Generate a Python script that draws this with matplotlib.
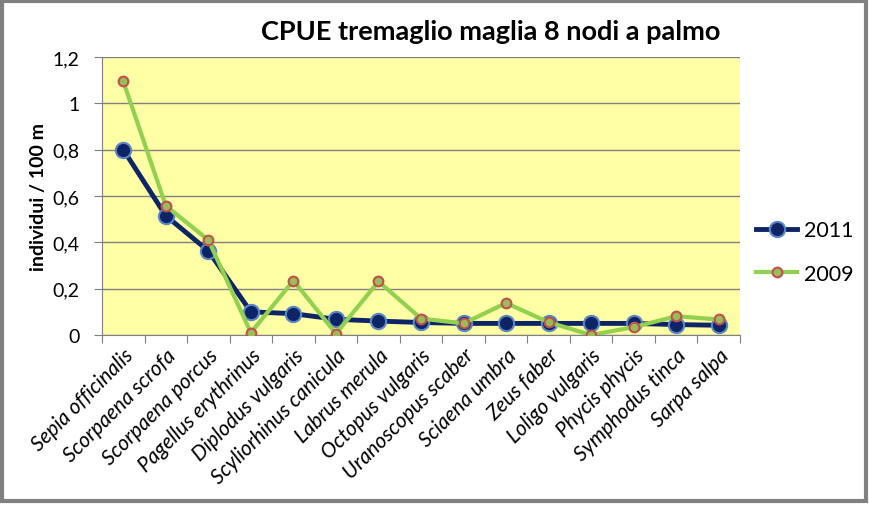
import matplotlib
matplotlib.use("Agg")
import matplotlib.pyplot as plt
from matplotlib.patches import Rectangle
from matplotlib.lines import Line2D

species = ["Sepia officinalis", "Scorpaena scrofa", "Scorpaena porcus", "Pagellus erythrinus",
           "Diplodus vulgaris", "Scyliorhinus canicula", "Labrus merula", "Octopus vulgaris",
           "Uranoscopus scaber", "Sciaena umbra", "Zeus faber", "Loligo vulgaris",
           "Phycis phycis", "Symphodus tinca", "Sarpa salpa"]
v2011 = [0.80, 0.515, 0.363, 0.100, 0.092, 0.068, 0.060, 0.054, 0.050, 0.050, 0.050, 0.050, 0.050, 0.045, 0.042]
v2009 = [1.095, 0.558, 0.410, 0.010, 0.235, 0.006, 0.231, 0.071, 0.050, 0.138, 0.055, 0.000, 0.034, 0.081, 0.067]
yticks = [0, 0.2, 0.4, 0.6, 0.8, 1.0, 1.2]
ytick_labels = ["0", "0,2", "0,4", "0,6", "0,8", "1", "1,2"]

plt.rcParams['font.family'] = ['Lato', 'DejaVu Sans']

W, H = 869, 506
fig = plt.figure(figsize=(W/100, H/100), dpi=100)
fig.patch.set_facecolor('white')
# outer border
fig.add_artist(Rectangle((0.002, 0.008), 0.994, 0.988, transform=fig.transFigure,
                         fill=False, edgecolor='#808080', linewidth=3))

left, right, top, bottom = 102, 740, 58, 336
ax = fig.add_axes([left/W, 1 - bottom/H, (right-left)/W, (bottom-top)/H])
ax.set_facecolor('#FFFFA6')

x = list(range(len(species)))
ax.plot(x, v2011, color='#0D2566', linewidth=3.5, marker='o', markersize=11,
        markerfacecolor='#0D2566', markeredgecolor='#5B86C5', markeredgewidth=1.5,
        zorder=3, label='2011')
ax.plot(x, v2009, color='#92D050', linewidth=3.0, marker='o', markersize=7,
        markerfacecolor='#9BBB59', markeredgecolor='#C0504D', markeredgewidth=1.5,
        zorder=4, label='2009')

ax.set_xlim(-0.5, len(species) - 0.5)
ax.set_ylim(0, 1.2)
ax.set_yticks(yticks)
ax.set_yticklabels(ytick_labels, fontsize=14)
ax.yaxis.grid(True, color='#808080', linewidth=1)
ax.set_axisbelow(True)
for s in ['top', 'right']:
    ax.spines[s].set_visible(False)
ax.spines['left'].set_color('#808080')
ax.spines['bottom'].set_color('#808080')
ax.tick_params(axis='y', length=6, color='#808080', pad=10)

ax.set_xticks([i - 0.5 for i in range(len(species) + 1)], minor=False)
ax.set_xticklabels([])
ax.tick_params(axis='x', length=6, color='#808080', direction='out')
ax.set_xticks(x, minor=True)
ax.set_xticklabels(species, minor=True, rotation=45, ha='right', rotation_mode='anchor',
                   fontsize=15, style='italic')
ax.tick_params(axis='x', which='minor', length=0, pad=7)

ax.set_ylabel('individui / 100 m', fontsize=14, fontweight='bold', labelpad=4)

fig.text(491/W, 1 - 32/H, 'CPUE tremaglio maglia 8 nodi a palmo', fontsize=19.5,
         fontweight='bold', ha='center', va='center')

handles = [Line2D([0], [0], color='#0D2566', linewidth=3.5, marker='o', markersize=11,
                  markerfacecolor='#0D2566', markeredgecolor='#5B86C5', markeredgewidth=1.5),
           Line2D([0], [0], color='#92D050', linewidth=3.0, marker='o', markersize=7,
                  markerfacecolor='#9BBB59', markeredgecolor='#C0504D', markeredgewidth=1.5)]
fig.legend(handles, ['2011', '2009'], loc='center left', bbox_to_anchor=(737/W, 1 - 253/H),
           frameon=False, fontsize=15.5, handlelength=1.9, labelspacing=1.1, handletextpad=0.3)

fig.savefig('out.png', dpi=100)
